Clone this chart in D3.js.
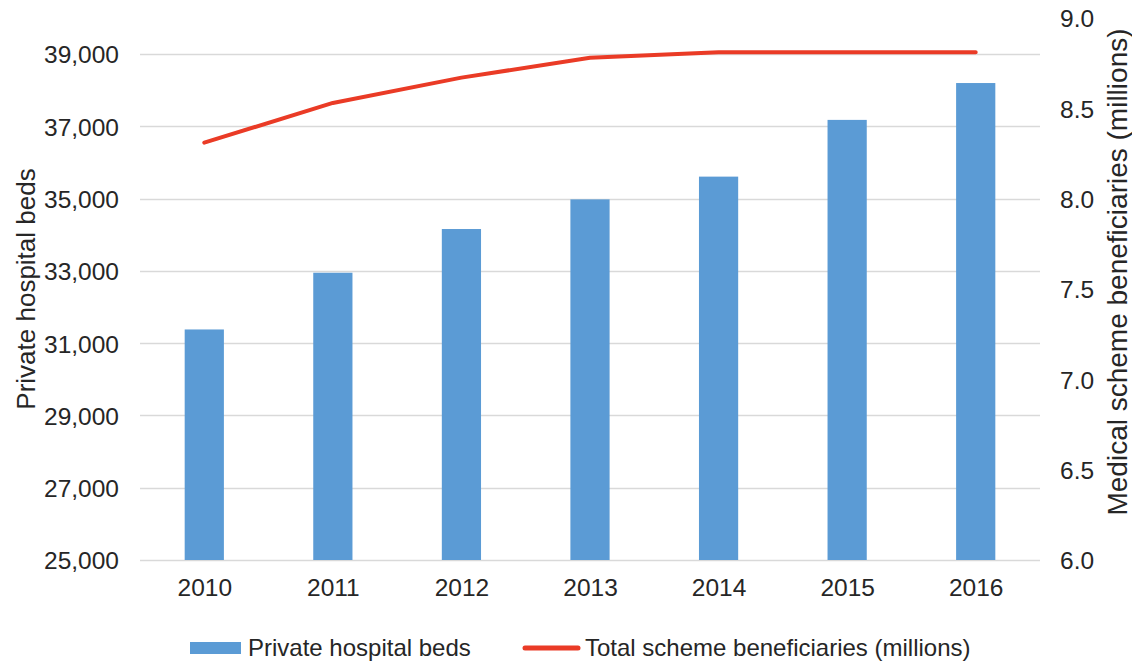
<!DOCTYPE html>
<html>
<head>
<meta charset="utf-8">
<script src="https://cdnjs.cloudflare.com/ajax/libs/d3/7.8.5/d3.min.js"></script>
<style>
  html, body { margin: 0; padding: 0; background: #fff; }
  text { font-family: "Liberation Sans", Arial, sans-serif; fill: #262626; }
</style>
</head>
<body>
<div id="chart"></div>
<script>
// Chart data
const years = ['2010', '2011', '2012', '2013', '2014', '2015', '2016'];
const hospitalBeds = [31380, 32950, 34160, 34980, 35610, 37180, 38200];
const beneficiaries = [8.31, 8.53, 8.67, 8.78, 8.81, 8.81, 8.81];
const leftTicks = [25000, 27000, 29000, 31000, 33000, 35000, 37000, 39000];
const rightTicks = [6.0, 6.5, 7.0, 7.5, 8.0, 8.5, 9.0];

const width = 1132;
const height = 661;
const margin = {top: 18, right: 92, bottom: 101, left: 140};
const plotW = width - margin.left - margin.right;
const plotH = height - margin.top - margin.bottom;
const fontFamily = '"Liberation Sans", Arial, sans-serif';

const svg = d3.select('#chart')
    .append('svg')
    .attr('width', width)
    .attr('height', height);

const plot = svg.append('g')
    .attr('transform', `translate(${margin.left},${margin.top})`);

const x = d3.scaleBand()
    .domain(years)
    .range([0, plotW])
    .paddingInner(0.695)
    .paddingOuter(0.3475);

const xCenter = d3.scalePoint()
    .domain(years)
    .range([0, plotW])
    .padding(0.5);

const yLeft = d3.scaleLinear().domain([25000, 40000]).range([plotH, 0]);
const yRight = d3.scaleLinear().domain([6, 9]).range([plotH, 0]);

/* Gridlines */
plot.append('g')
    .attr('class', 'grid')
    .selectAll('line')
    .data(leftTicks)
    .join('line')
    .attr('x1', 0)
    .attr('x2', plotW)
    .attr('y1', d => Math.round(yLeft(d)) + 0.5)
    .attr('y2', d => Math.round(yLeft(d)) + 0.5)
    .attr('stroke', '#d9d9d9')
    .attr('stroke-width', 1.3);

/* Bars */
plot.append('g')
    .selectAll('rect')
    .data(years)
    .join('rect')
    .attr('x', d => x(d))
    .attr('width', x.bandwidth())
    .attr('y', (d, i) => yLeft(hospitalBeds[i]))
    .attr('height', (d, i) => plotH - yLeft(hospitalBeds[i]))
    .attr('fill', '#5b9bd5');

/* Line */
const line = d3.line()
    .x((d, i) => xCenter(years[i]))
    .y(d => yRight(d));

plot.append('path')
    .datum(beneficiaries)
    .attr('d', line)
    .attr('fill', 'none')
    .attr('stroke', '#ea3b26')
    .attr('stroke-width', 4)
    .attr('stroke-linecap', 'round')
    .attr('stroke-linejoin', 'round');

/* Axes */
function styleTicks(axisG) {
  axisG.select('.domain').remove();
  axisG.selectAll('text')
      .attr('font-size', 24.5)
      .style('font-family', fontFamily)
      .attr('fill', '#262626');
}

const leftAxis = plot.append('g')
    .call(d3.axisLeft(yLeft).tickValues(leftTicks).tickFormat(d3.format(','))
        .tickSize(0).tickPadding(21));
styleTicks(leftAxis);
leftAxis.selectAll('text').attr('dy', '0.36em');

const rightAxis = plot.append('g')
    .attr('transform', `translate(${plotW},0)`)
    .call(d3.axisRight(yRight).tickValues(rightTicks).tickFormat(d3.format('.1f'))
        .tickSize(0).tickPadding(20));
styleTicks(rightAxis);
rightAxis.selectAll('text').attr('dy', '0.36em');

const bottomAxis = plot.append('g')
    .attr('transform', `translate(0,${plotH})`)
    .call(d3.axisBottom(xCenter).tickSize(0).tickPadding(19));
styleTicks(bottomAxis);

/* Axis titles */
svg.append('text')
    .attr('transform', `translate(35,${margin.top + plotH / 2}) rotate(-90)`)
    .attr('text-anchor', 'middle')
    .attr('font-size', 26)
    .text('Private hospital beds');

svg.append('text')
    .attr('transform', 'translate(1127,272) rotate(-90)')
    .attr('text-anchor', 'middle')
    .attr('font-size', 28)
    .text('Medical scheme beneficiaries (millions)');

/* Legend */
const legend = svg.append('g').attr('transform', 'translate(0,647)');
legend.append('rect')
    .attr('x', 190).attr('y', -5)
    .attr('width', 51).attr('height', 12)
    .attr('fill', '#5b9bd5');
legend.append('text')
    .attr('x', 248).attr('y', 0).attr('dy', '0.36em')
    .attr('font-size', 24)
    .text('Private hospital beds');
legend.append('line')
    .attr('x1', 525).attr('x2', 578)
    .attr('y1', 1).attr('y2', 1)
    .attr('stroke', '#ea3b26')
    .attr('stroke-width', 5)
    .attr('stroke-linecap', 'round');
legend.append('text')
    .attr('x', 585).attr('y', 0).attr('dy', '0.36em')
    .attr('font-size', 24)
    .text('Total scheme beneficiaries (millions)');
</script>
</body>
</html>
